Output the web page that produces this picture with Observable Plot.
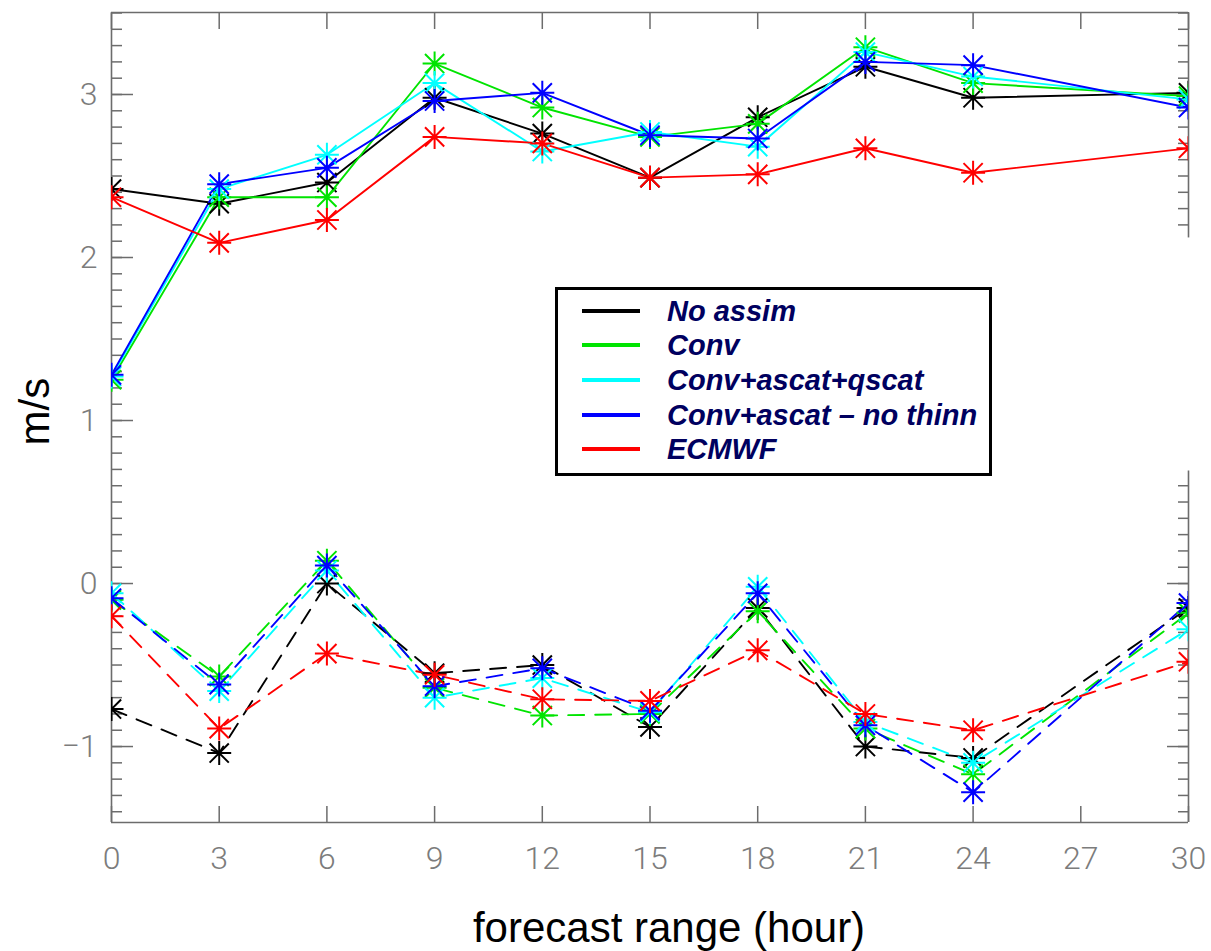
<!DOCTYPE html>
<html>
<head>
<meta charset="utf-8">
<script src="https://cdn.jsdelivr.net/npm/d3@7"></script>
<script src="https://cdn.jsdelivr.net/npm/@observablehq/plot@0.6"></script>
<style>
  body { margin: 0; background: #fff; }
  #chart { position: relative; width: 1211px; height: 951px; overflow: hidden; }
  .legend { position: absolute; left: 555px; top: 287px; width: 431px; height: 183px;
            border: 3px solid #000; background: #fff; }
  .legend .row { position: absolute; left: 24px; height: 34px; display: flex; align-items: center; }
  .legend .swatch { width: 58px; height: 4px; }
  .legend .name { margin-left: 27px; font: italic bold 29px "Liberation Sans", Arial, sans-serif;
                  color: #00005f; white-space: nowrap; }
</style>
</head>
<body>
<div id="chart"></div>
<script>
// Forecast lead times (hours) and x tick labels
const hours = [0, 3, 6, 9, 12, 15, 18, 21, 24, 30];
const xTicks = [0, 3, 6, 9, 12, 15, 18, 21, 24, 27, 30];
const yMajor = [-1, 0, 1, 2, 3];

// Experiments, in legend order
const seriesNames = ["No assim", "Conv", "Conv+ascat+qscat", "Conv+ascat \u2013 no thinn", "ECMWF"];
const seriesColors = ["#000000", "#00e400", "#00ffff", "#0000ff", "#ff0000"];

// Upper group: RMS wind error (m/s), solid lines
const rmsNoAssim        = [2.42, 2.33, 2.46, 2.98, 2.76, 2.49, 2.86, 3.17, 2.98, 3.01];
const rmsConv           = [1.25, 2.37, 2.37, 3.19, 2.92, 2.74, 2.82, 3.29, 3.07, 2.99];
const rmsConvAscatQscat = [1.27, 2.42, 2.63, 3.07, 2.65, 2.77, 2.68, 3.26, 3.11, 2.97];
const rmsConvAscatNoThn = [1.28, 2.45, 2.55, 2.96, 3.01, 2.75, 2.73, 3.20, 3.18, 2.92];
const rmsEcmwf          = [2.37, 2.09, 2.23, 2.74, 2.70, 2.49, 2.51, 2.67, 2.52, 2.67];

// Lower group: wind bias (m/s), dashed lines
const biasNoAssim        = [-0.77, -1.04, 0.00, -0.55, -0.50, -0.88, -0.15, -1.00, -1.07, -0.15];
const biasConv           = [-0.10, -0.57, 0.14, -0.64, -0.81, -0.80, -0.17, -0.89, -1.17, -0.18];
const biasConvAscatQscat = [-0.06, -0.66, 0.08, -0.70, -0.58, -0.79, -0.02, -0.85, -1.10, -0.28];
const biasConvAscatNoThn = [-0.09, -0.62, 0.11, -0.63, -0.52, -0.78, -0.06, -0.87, -1.28, -0.12];
const biasEcmwf          = [-0.20, -0.89, -0.43, -0.56, -0.71, -0.72, -0.41, -0.80, -0.90, -0.48];

const xDomain = [0, 30];
const yDomain = [-1.466, 3.503];
// the right-hand axis is interrupted between these two values
const rightAxisGap = [0.69, 2.12];

const rmsSeries = [rmsNoAssim, rmsConv, rmsConvAscatQscat, rmsConvAscatNoThn, rmsEcmwf];
const biasSeries = [biasNoAssim, biasConv, biasConvAscatQscat, biasConvAscatNoThn, biasEcmwf];

const rmsRows = [], biasRows = [];
seriesNames.forEach((name, i) => {
  hours.forEach((h, j) => {
    rmsRows.push({series: name, hour: h, value: rmsSeries[i][j]});
    biasRows.push({series: name, hour: h, value: biasSeries[i][j]});
  });
});

// minor ticks every 0.1 m/s
const yMinor = d3.range(-14, 36).map(i => i / 10);
const yMinorRight = yMinor.filter(v => v <= rightAxisGap[0] || v >= rightAxisGap[1]);
const yMajorRight = yMajor.filter(v => v <= rightAxisGap[0] || v >= rightAxisGap[1]);

// integer labels with a true minus sign
const intFormat = d => (d < 0 ? "\u2212" : "") + Math.abs(d);

// IDL-style asterisk: a plus and a cross through the centre
const asterisk = {
  draw(ctx, size) {
    const r = Math.sqrt(size / Math.PI);
    const d = r * 0.8;
    ctx.moveTo(-r, 0); ctx.lineTo(r, 0);
    ctx.moveTo(0, -r); ctx.lineTo(0, r);
    ctx.moveTo(-d, -d); ctx.lineTo(d, d);
    ctx.moveTo(-d, d); ctx.lineTo(d, -d);
  }
};

const axisGray = "#6c6c6c";
const labelGray = "#7c7c7c";
const tickFont = "Roboto, 'Open Sans', sans-serif";

const chart = Plot.plot({
  width: 1211,
  height: 951,
  marginLeft: 111,
  marginRight: 23,
  marginTop: 12,
  marginBottom: 129,
  style: {background: "#fff", fontFamily: "'Liberation Sans', Arial, sans-serif"},
  x: {domain: xDomain},
  y: {domain: yDomain},
  color: {domain: seriesNames, range: seriesColors},
  marks: [
    // frame
    Plot.ruleX([xDomain[0]], {stroke: axisGray, strokeWidth: 1.6}),
    Plot.ruleX([{y1: yDomain[0], y2: rightAxisGap[0]}, {y1: rightAxisGap[1], y2: yDomain[1]}],
      {x: () => xDomain[1], y1: "y1", y2: "y2", stroke: axisGray, strokeWidth: 1.6}),
    Plot.ruleY([yDomain[0], yDomain[1]], {stroke: axisGray, strokeWidth: 1.6}),

    // inward ticks
    Plot.axisY({anchor: "left", ticks: yMinor, tickSize: -11, fill: null, stroke: axisGray, strokeWidth: 1.5, label: null}),
    Plot.axisY({anchor: "left", ticks: yMajor, tickSize: -22, fill: null, stroke: axisGray, strokeWidth: 1.5, label: null}),
    Plot.axisY({anchor: "right", ticks: yMinorRight, tickSize: -11, fill: null, stroke: axisGray, strokeWidth: 1.5, label: null}),
    Plot.axisY({anchor: "right", ticks: yMajorRight, tickSize: -22, fill: null, stroke: axisGray, strokeWidth: 1.5, label: null}),
    Plot.axisX({anchor: "bottom", ticks: xTicks, tickSize: -16, fill: null, stroke: axisGray, strokeWidth: 1.5, label: null}),
    Plot.axisX({anchor: "top", ticks: xTicks, tickSize: -16, fill: null, stroke: axisGray, strokeWidth: 1.5, label: null}),

    // tick labels
    Plot.axisY({anchor: "left", ticks: yMajor, tickFormat: intFormat, tickSize: 0, tickPadding: 14, fontSize: 32,
      fontFamily: tickFont, fontWeight: 300, fill: labelGray, label: null}),
    Plot.axisX({anchor: "bottom", ticks: xTicks, tickFormat: intFormat, tickSize: 0, tickPadding: 24, fontSize: 32,
      fontFamily: tickFont, fontWeight: 300, fill: labelGray, label: null}),

    // axis titles
    Plot.text(["forecast range (hour)"], {frameAnchor: "bottom", dy: 119, dx: 19, fontSize: 42, fill: "#000"}),
    Plot.text(["m/s"], {frameAnchor: "left", rotate: -90, dx: -76, dy: 28, fontSize: 42, fill: "#000"}),

    // RMS (solid) and bias (dashed) curves
    Plot.line(rmsRows, {x: "hour", y: "value", z: "series", stroke: "series", strokeWidth: 1.9, clip: true}),
    Plot.line(biasRows, {x: "hour", y: "value", z: "series", stroke: "series", strokeWidth: 1.9,
      strokeDasharray: "16,11", clip: true}),
    Plot.dot(rmsRows.concat(biasRows), {x: "hour", y: "value", stroke: "series", fill: "none",
      symbol: asterisk, r: 12, strokeWidth: 2, clip: true})
  ]
});

const container = document.getElementById("chart");
container.appendChild(chart);

// legend box
const legend = document.createElement("div");
legend.className = "legend";
const rowTops = [4, 38, 73, 108, 142];
seriesNames.forEach((name, i) => {
  const row = document.createElement("div");
  row.className = "row";
  row.style.top = rowTops[i] + "px";
  const sw = document.createElement("div");
  sw.className = "swatch";
  sw.style.background = seriesColors[i];
  const label = document.createElement("span");
  label.className = "name";
  label.textContent = name;
  row.appendChild(sw);
  row.appendChild(label);
  legend.appendChild(row);
});
container.appendChild(legend);
</script>
</body>
</html>
